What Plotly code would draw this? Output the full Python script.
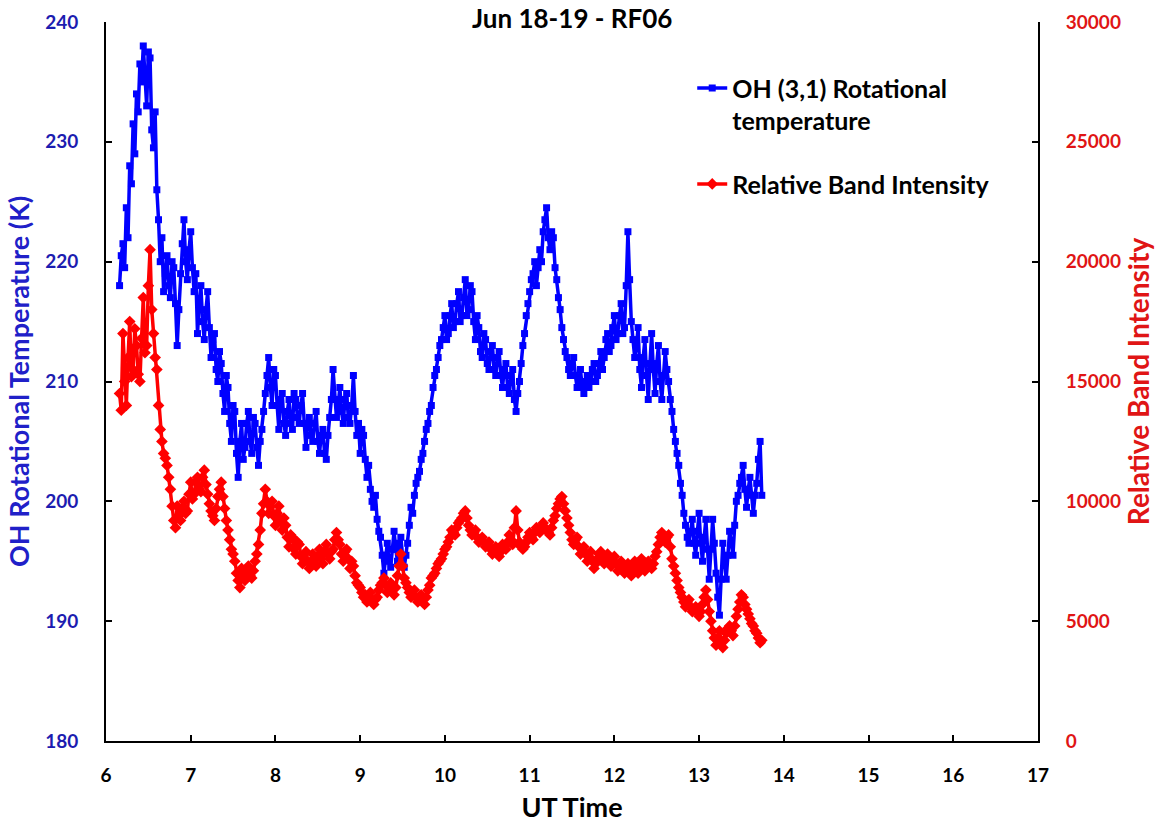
import plotly.graph_objects as go

# UT time sampling: start (h) and cadence (h); one sample per value below
UT_START = 6.16
UT_STEP = 0.02

# OH (3,1) rotational temperature (K)
rot_temp = [
    218.0, 220.5, 221.5, 219.5, 224.5, 222.0, 228.0, 226.5, 231.5, 229.0,
    234.0, 232.5, 236.5, 235.0, 238.0, 236.0, 233.0, 237.5, 237.0, 231.0,
    229.5, 232.5, 226.0, 223.5, 220.0, 222.0, 217.5, 219.0, 220.5, 218.0,
    217.0, 220.0, 219.5, 216.5, 213.0, 216.0, 219.0, 221.5, 223.5, 220.0,
    218.5, 221.0, 222.5, 219.5, 217.5, 219.0, 214.0, 216.5, 218.0, 215.0,
    213.5, 216.0, 217.5, 214.5, 212.0, 213.5, 214.0, 211.0, 210.0, 212.5,
    211.5, 209.0, 207.5, 210.5, 209.5, 206.5, 205.0, 208.0, 207.5, 204.0,
    202.0, 205.0, 206.5, 203.5, 204.5, 206.5, 207.5, 205.0, 204.0, 207.0,
    206.5, 204.5, 203.0, 205.0, 206.0, 207.5, 209.0, 210.5, 212.0, 209.5,
    208.0, 211.0, 210.5, 208.0, 206.0, 208.5, 209.0, 206.5, 205.5, 207.5,
    208.5, 206.5, 206.0, 209.0, 208.5, 207.0, 206.5, 208.0, 209.0, 206.5,
    204.5, 206.5, 207.0, 205.5, 205.0, 206.5, 207.5, 205.0, 204.0, 205.5,
    206.0, 204.0, 203.5, 205.5, 207.0, 208.5, 211.0, 208.5, 207.0, 208.0,
    209.5, 207.5, 206.5, 208.5, 209.0, 207.0, 206.5, 208.0, 210.5, 207.5,
    205.5, 206.5, 204.0, 206.0, 205.5, 203.5, 202.0, 203.0, 201.0, 200.0,
    199.5, 200.5, 198.5, 197.5, 197.0, 195.5, 194.0, 195.5, 196.5, 195.0,
    194.5, 196.0, 197.5, 196.0, 195.0, 196.5, 197.0, 195.5, 194.5, 195.5,
    196.5, 198.0, 199.5, 199.0, 200.5, 201.5, 202.0, 202.5, 203.5, 204.0,
    205.0, 206.0, 206.5, 207.5, 208.0, 209.5, 210.5, 211.0, 212.0, 213.0,
    213.5, 214.5, 215.5, 213.5, 214.0, 215.5, 216.5, 214.5, 215.0, 216.5,
    217.5, 215.0, 215.5, 217.0, 218.5, 215.5, 216.0, 218.0, 217.5, 215.0,
    213.5, 215.5, 214.5, 212.5, 212.0, 214.0, 213.5, 211.5, 211.0, 212.5,
    213.0, 211.0, 210.5, 212.0, 212.5, 210.5, 209.5, 211.0, 211.5, 209.5,
    209.0, 210.5, 211.0, 208.5, 207.5, 209.0, 210.0, 211.5, 213.0, 214.0,
    215.5, 216.5, 217.5, 218.5, 219.0, 220.0, 218.0, 219.5, 221.0, 220.0,
    222.5, 223.5, 224.5, 222.0, 221.0, 222.5, 222.0, 219.5, 218.5, 217.0,
    216.0, 214.5, 213.5, 212.5, 212.0, 211.0, 210.5, 211.5, 212.0, 210.5,
    209.5, 210.0, 211.0, 209.5, 209.0, 210.0, 210.5, 209.5, 210.0, 211.0,
    211.5, 210.0, 210.5, 211.5, 212.5, 211.0, 212.0, 213.5, 214.0, 212.5,
    213.0, 214.5, 215.5, 213.5, 214.0, 215.5, 216.5, 214.0, 214.5, 218.0,
    222.5, 218.5, 215.0, 213.5, 212.0, 213.0, 214.5, 211.0, 209.5, 212.0,
    213.5, 210.5, 208.5, 211.5, 214.0, 211.0, 209.0, 211.5, 213.0, 210.0,
    208.5, 210.5, 212.5, 211.0, 210.0, 208.5, 207.5, 206.0, 205.0, 204.0,
    203.0, 201.5, 200.5, 199.0, 198.0, 197.0, 196.5, 197.5, 198.5, 196.5,
    195.5, 197.5, 199.0, 196.5, 195.0, 197.0, 198.5, 196.0, 193.5, 196.0,
    198.5, 196.5, 194.0, 192.0, 190.5, 193.5, 196.5, 195.0, 193.5, 195.5,
    197.5, 196.5, 195.5, 198.0, 200.0, 200.5, 201.5, 202.0, 203.0, 201.0,
    199.5, 201.0, 202.0, 200.5, 199.0, 200.5, 201.5, 203.5, 205.0, 200.5,
]

# Relative band intensity
band_intensity = [
    14500, 13800, 17000, 15000, 14000, 16000, 17500, 15200, 15500, 17200,
    16500, 15300, 15000, 16800, 18500, 16200, 16500, 19000, 20500, 18000,
    17000, 16000, 15500, 14000, 13000, 12500, 12000, 11800, 11500, 11000,
    10500, 9800, 9200, 8900, 9800, 9400, 9200, 9700, 10000, 9500,
    9600, 10300, 10800, 10100, 10300, 10800, 11000, 10500, 10400, 11000,
    11300, 10700, 10300, 9900, 9600, 9400, 9200, 9700, 10200, 10500,
    10800, 10200, 9700, 9200, 8800, 8400, 8000, 7800, 7500, 7000,
    6700, 6400, 7200, 6800, 6700, 7000, 7300, 6900, 6800, 7100,
    7500, 7800, 8200, 8800, 9500, 9900, 10500, 10000, 9500, 9800,
    10000, 9400, 9000, 9500, 9800, 9200, 8800, 9300, 9000, 8500,
    8100, 8600, 8500, 8000, 7800, 8300, 8200, 7700, 7400, 7800,
    7900, 7500, 7200, 7500, 7800, 7400, 7300, 7700, 8000, 7600,
    7400, 7900, 8200, 7800, 7600, 7900, 8000, 8400, 8700, 8400,
    8200, 7800, 7500, 7900, 8000, 7600, 7200, 7500, 7300, 6900,
    6600, 6500, 6400, 6200, 6000, 6100, 5800, 5900, 6200, 5900,
    5700, 5900, 6000, 6300, 6500, 6600, 6800, 6500, 6200, 6400,
    6600, 6300, 6100, 6400, 6900, 7300, 7800, 7300, 6800, 6600,
    6400, 6200, 6000, 6100, 6300, 6000, 5800, 6000, 6100, 5900,
    5700, 6000, 6300, 6500, 6800, 6900, 7000, 7200, 7400, 7500,
    7600, 7800, 8000, 8100, 8300, 8500, 8800, 8700, 8600, 8900,
    9100, 9200, 9300, 9500, 9600, 9300, 9000, 8800, 8600, 8700,
    8800, 8500, 8300, 8400, 8500, 8300, 8100, 8200, 8300, 8000,
    7800, 7900, 8100, 7900, 7700, 7900, 8200, 8100, 8000, 8300,
    8600, 8400, 8200, 8900, 9600, 8800, 8300, 8100, 8000, 8100,
    8300, 8500, 8700, 8500, 8400, 8700, 8900, 8800, 8700, 8900,
    9100, 8900, 8800, 8700, 8600, 8900, 9200, 9400, 9700, 9900,
    10100, 10200, 9900, 9600, 9300, 9000, 8700, 8400, 8200, 8400,
    8500, 8100, 7800, 8000, 8100, 7800, 7500, 7700, 7900, 7500,
    7200, 7400, 7600, 7800, 7900, 7600, 7400, 7600, 7800, 7500,
    7300, 7500, 7700, 7400, 7100, 7300, 7500, 7200, 7000, 7200,
    7400, 7100, 6900, 7200, 7500, 7200, 7000, 7300, 7600, 7300,
    7100, 7300, 7500, 7300, 7200, 7400, 7700, 7900, 8200, 8500,
    8700, 8500, 8300, 8500, 8600, 8100, 7600, 7300, 7000, 6700,
    6400, 6200, 6000, 5800, 5600, 5800, 5900, 5600, 5400, 5500,
    5600, 5400, 5200, 5400, 5700, 6000, 6300, 5900, 5400, 5000,
    4600, 4300, 4000, 4300, 4600, 4200, 3900, 4200, 4500, 4700,
    4800, 4600, 4400, 4800, 5200, 5500, 5800, 6100, 6000, 5700,
    5500, 5300, 5100, 4900, 4800, 4600, 4500, 4300, 4100, 4200,
]

temp_time = [round(UT_START + UT_STEP * i, 2) for i in range(len(rot_temp))]
band_time = [round(UT_START + UT_STEP * i, 2) for i in range(len(band_intensity))]

x_ticks = [6, 7, 8, 9, 10, 11, 12, 13, 14, 15, 16, 17]
left_ticks = [180, 190, 200, 210, 220, 230, 240]
right_ticks = [0, 5000, 10000, 15000, 20000, 25000, 30000]

FONT = "Lato"
BLUE = "#0000FF"
RED = "#FF0000"
LBLUE = "#1c1cb0"
LRED = "#e01515"

fig = go.Figure()
fig.add_trace(go.Scatter(
    x=temp_time, y=rot_temp, mode="lines+markers",
    name="OH (3,1) Rotational<br>temperature", legendgroup="a",
    line=dict(color=BLUE, width=3.5),
    marker=dict(symbol="square", size=7, color=BLUE),
    yaxis="y",
))
fig.add_trace(go.Scatter(
    x=band_time, y=band_intensity, mode="lines+markers",
    name="Relative Band Intensity", legendgroup="b",
    line=dict(color=RED, width=3.5),
    marker=dict(symbol="diamond", size=9, color=RED),
    yaxis="y2",
))

fig.update_layout(
    template="none",
    width=1157, height=823,
    margin=dict(l=106, r=119, t=22, b=82, autoexpand=False),
    plot_bgcolor="white", paper_bgcolor="white",
    font=dict(family=FONT, color="black"),
    showlegend=True,
    legend=dict(
        x=0.629, y=0.94, xanchor="left", yanchor="top",
        font=dict(family=FONT, size=25, color="black", weight="bold"),
        valign="top", tracegroupgap=28,
        bgcolor="rgba(0,0,0,0)", borderwidth=0,
    ),
    xaxis=dict(
        range=[6, 17], tickvals=x_ticks, ticks="inside", ticklen=6,
        tickwidth=2, tickcolor="black", showline=True, linecolor="black",
        linewidth=2, mirror=False, showgrid=False, zeroline=False,
        automargin=False,
        tickfont=dict(family=FONT, size=19, color="black", weight="bold"),
        ticklabelstandoff=16,
        title=dict(text="UT Time", standoff=14,
                   font=dict(family=FONT, size=27, color="black", weight="bold")),
    ),
    yaxis=dict(
        range=[180, 240], tickvals=left_ticks, ticks="inside", ticklen=6,
        tickwidth=2, tickcolor="black", showline=True, linecolor="black",
        linewidth=2, showgrid=False, zeroline=False, automargin=False,
        tickfont=dict(family=FONT, size=19, color=LBLUE, weight="bold"),
        ticklabelstandoff=22,
        title=dict(text="OH Rotational Temperature (K)", standoff=8,
                   font=dict(family=FONT, size=27, color="#2020c8", weight="bold")),
    ),
    yaxis2=dict(
        range=[0, 30000], tickvals=right_ticks, tickformat="d",
        overlaying="y", side="right",
        ticks="inside", ticklen=6, tickwidth=2, tickcolor="black",
        showline=True, linecolor="black", linewidth=2, showgrid=False,
        zeroline=False, automargin=False,
        tickfont=dict(family=FONT, size=19, color=LRED, weight="bold"),
        ticklabelstandoff=22,
        title=dict(text="Relative Band Intensity", standoff=2,
                   font=dict(family=FONT, size=28, color=LRED, weight="bold")),
    ),
    annotations=[dict(
        text="Jun 18-19 - RF06", xref="paper", yref="paper",
        x=0.5, y=1, xanchor="center", yanchor="middle", yshift=4,
        showarrow=False,
        font=dict(family=FONT, size=26, color="black", weight="bold"),
    )],
)

fig.write_html("out.html", config={"displayModeBar": False},
               post_script="document.body.style.margin='0';")
